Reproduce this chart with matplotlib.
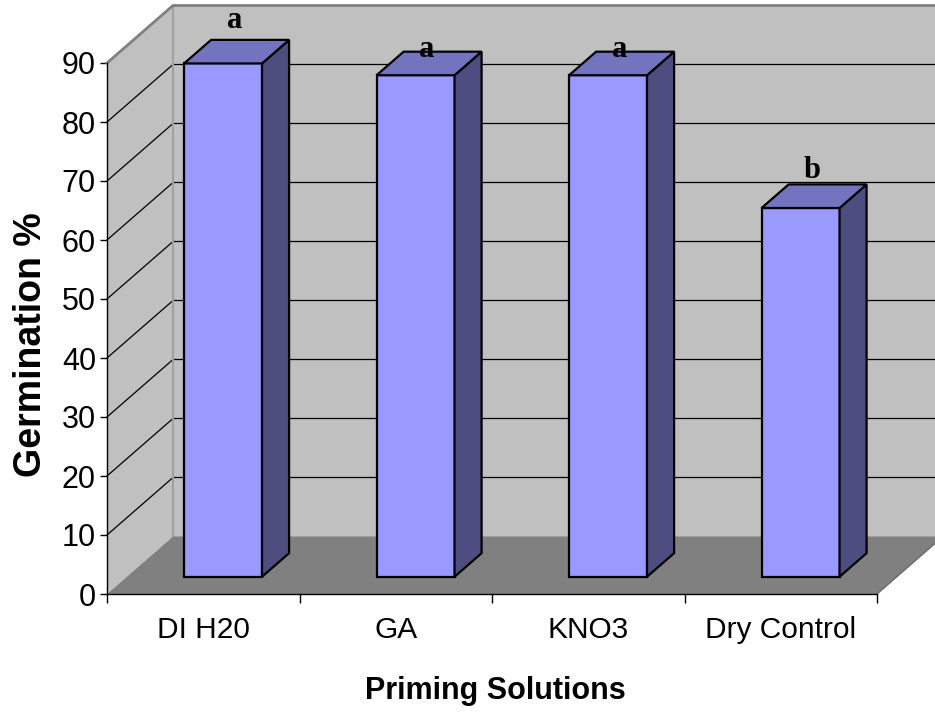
import matplotlib.pyplot as plt
from matplotlib.patches import Polygon

# germination by priming treatment
solutions = ['DI H20', 'GA', 'KNO3', 'Dry Control']
germination = [87, 85, 85, 62.5]
letters = ['a', 'a', 'a', 'b']
# lift of each letter above the back edge of its bar top, in points
letter_lift = [14, 1.5, 1.5, 10]

fig = plt.figure(figsize=(9.35, 7.17), dpi=100)
ax = fig.add_axes([107 / 935, 123 / 717, 770 / 935, 531 / 717])
ax.set_xlim(0, 4)
ax.set_ylim(0, 90)

# oblique depth offset of the chart box (category units, value units)
DX = 66 / 192.5
DY = 57.5 / 5.9
BAR_W = 0.405
D0, D1 = 0.30, 0.71


def P(c, v, d):
    return (c + d * DX, v + d * DY)


def face(pts, color, z, ec='none', lw=0):
    ax.add_patch(Polygon(pts, closed=True, facecolor=color, edgecolor=ec,
                         linewidth=lw, zorder=z, clip_on=False,
                         joinstyle='miter'))


# walls and floor
face([P(0, 0, 1), P(4, 0, 1), P(4, 90, 1), P(0, 90, 1)], '#c0c0c0', 0)
face([P(0, 0, 0), P(0, 0, 1), P(0, 90, 1), P(0, 90, 0)], '#c0c0c0', 0)

for v in range(10, 90, 10):
    pts = [P(0, v, 0), P(0, v, 1), P(4, v, 1)]
    ax.plot([p[0] for p in pts], [p[1] for p in pts], color='black',
            lw=0.9, zorder=1, clip_on=False)

face([P(0, 0, 0), P(4, 0, 0), P(4, 0, 1), P(0, 0, 1)], '#808080', 2)

edge = [P(0, 90, 0), P(0, 90, 1), P(4, 90, 1)]
ax.plot([p[0] for p in edge], [p[1] for p in edge], color='#808080',
        lw=2, zorder=2, clip_on=False)
corner = [P(0, 0, 1), P(0, 90, 1)]
ax.plot([p[0] for p in corner], [p[1] for p in corner], color='#a0a0a0',
        lw=1.5, zorder=1, clip_on=False)
rim = [P(4, 0, 0), P(4, 0, 1)]
ax.plot([p[0] for p in rim], [p[1] for p in rim], color='#6a6a6a',
        lw=1, zorder=2, clip_on=False)

# bars
for i, (v, lab) in enumerate(zip(germination, letters)):
    c0 = i + 0.5 - BAR_W / 2
    c1 = i + 0.5 + BAR_W / 2
    z = 3 + i
    face([P(c0, 0, D0), P(c1, 0, D0), P(c1, v, D0), P(c0, v, D0)],
         '#9999ff', z, 'black', 1.6)
    face([P(c1, 0, D0), P(c1, 0, D1), P(c1, v, D1), P(c1, v, D0)],
         '#4d4d80', z, 'black', 1.6)
    face([P(c0, v, D0), P(c1, v, D0), P(c1, v, D1), P(c0, v, D1)],
         '#7373bf', z, 'black', 1.6)
    xm = P(i + 0.5, v, (D0 + D1) / 2)[0]
    yb = P(i + 0.5, v, D1)[1]
    ax.annotate(lab, xy=(xm - 0.01, yb), xytext=(0, letter_lift[i]),
                textcoords='offset points', ha='center', va='center',
                fontsize=22, fontweight='bold', family='Liberation Serif',
                zorder=10, annotation_clip=False)

# axes
for s in ['top', 'right']:
    ax.spines[s].set_visible(False)
for s in ['left', 'bottom']:
    ax.spines[s].set_linewidth(1.0)
    ax.spines[s].set_zorder(9)

tick_font = 'Liberation Sans'
ax.set_yticks(range(0, 100, 10))
ax.tick_params(axis='y', direction='out', length=5, width=1, pad=3,
               labelsize=22)
for t in ax.get_yticklabels():
    t.set_family(tick_font)

ax.set_xticks(range(0, 5))
ax.set_xticklabels([])
ax.set_xticks([i + 0.5 for i in range(4)], minor=True)
ax.set_xticklabels(solutions, minor=True)
ax.tick_params(axis='x', which='major', direction='out', length=6.5, width=1)
ax.tick_params(axis='x', which='minor', length=0, pad=15.5, labelsize=21.5)
for t in ax.get_xticklabels(minor=True):
    t.set_family(tick_font)

fig.text(31 / 935, 1 - 345 / 717, 'Germination %', rotation=90,
         ha='center', va='center', fontsize=27, fontweight='bold',
         family='Liberation Sans')
fig.text(495 / 935, 1 - 699 / 717, 'Priming Solutions', ha='center',
         va='baseline', fontsize=22, fontweight='bold',
         family='Liberation Sans')

fig.savefig('out.png', dpi=100)
